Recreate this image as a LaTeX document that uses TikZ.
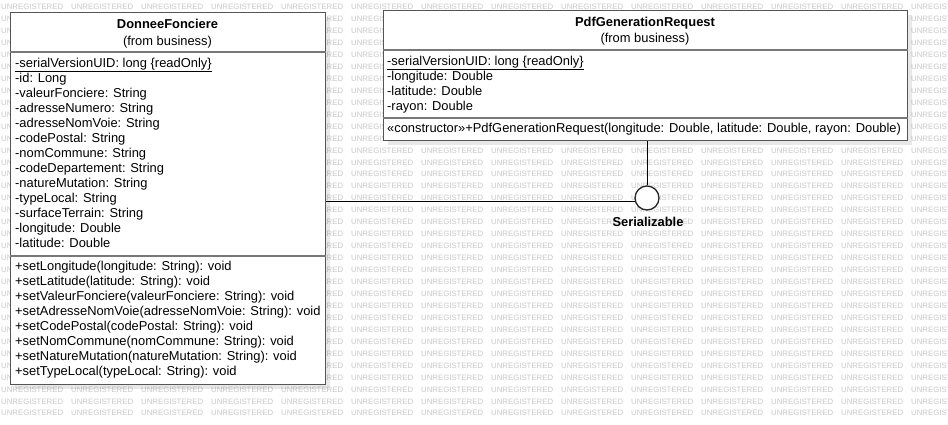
\documentclass[tikz,border=0pt]{standalone}
\usepackage{fontspec}
\setmainfont{Liberation Sans}
\usetikzlibrary{calc}

\definecolor{wmark}{RGB}{200,200,200}
\definecolor{frame}{RGB}{85,85,85}
\definecolor{sepline}{RGB}{120,120,120}

\tikzset{
  classbox/.style={draw=frame, line width=1.1pt, fill=white, inner sep=0pt, anchor=north west},
  shade/.style={fill=black, opacity=0.09},
  member/.style={anchor=base west, inner sep=0pt, font=\fontsize{12.9}{15}\selectfont},
  title/.style={anchor=base, inner sep=0pt, font=\fontsize{12.9}{15}\selectfont\bfseries},
  subtitle/.style={anchor=base, inner sep=0pt, font=\fontsize{12.9}{15}\selectfont},
  divider/.style={draw=sepline, line width=1.6pt},
  link/.style={draw=black, line width=0.9pt},
  lollipop/.style={circle, draw=black!85, line width=1.3pt, fill=white, minimum size=24pt, inner sep=0pt},
  wm/.style={anchor=west, inner sep=0pt, text=wmark, font=\fontsize{7.8}{8}\selectfont}
}

\begin{document}
\begin{tikzpicture}[x=1pt, y=-1pt]
  \useasboundingbox[fill=white] (0,0) rectangle (948,424);

  % background watermark grid (cells hidden under the class boxes are skipped)
  \foreach \r in {0,...,34} {
    \foreach \c in {0,...,13} {
      \pgfmathtruncatemacro\wx{1+70*\c}
      \pgfmathtruncatemacro\wy{7+11.95*\r}
      \pgfmathtruncatemacro\hide{((\wx>=10)&&(\wx+62<=325)&&(\wy>=16)&&(\wy<=380))||((\wx>=383)&&(\wx+62<=907)&&(\wy>=14)&&(\wy<=136))}
      \ifnum\hide=0
        \node[wm] at ({1+70*\c},{7+11.95*\r}) {UNREGISTERED};
      \fi
    }
  }

  % drop shadows
  \fill[shade] (15,17) rectangle (330,389);
  \fill[shade] (388,15) rectangle (912,145);

  % class DonneeFonciere
  \node[classbox, minimum width=315pt, minimum height=372pt] (donnee) at (10,12) {};
  \draw[divider] (donnee.west |- 0,52) -- (donnee.east |- 0,52);
  \draw[divider] (donnee.west |- 0,256) -- (donnee.east |- 0,256);
  \node[title] (donneeName) at (167.5,28) {DonneeFonciere};
  \node[subtitle] (donneeFrom) at (167.5,45) {(from business)};

  \node[member] (d1) at (15,67) {\underline{-serialVersionUID: long \{readOnly\}}};
  \foreach \t [count=\i] in {
      -id: Long,
      -valeurFonciere: String,
      -adresseNumero: String,
      -adresseNomVoie: String,
      -codePostal: String,
      -nomCommune: String,
      -codeDepartement: String,
      -natureMutation: String,
      -typeLocal: String,
      -surfaceTerrain: String,
      -longitude: Double,
      -latitude: Double} {
    \node[member] (da\i) at (15,{67+15*\i}) {\t};
  }
  \foreach \t [count=\i from 0] in {
      +setLongitude(longitude: String): void,
      +setLatitude(latitude: String): void,
      +setValeurFonciere(valeurFonciere: String): void,
      +setAdresseNomVoie(adresseNomVoie: String): void,
      +setCodePostal(codePostal: String): void,
      +setNomCommune(nomCommune: String): void,
      +setNatureMutation(natureMutation: String): void,
      +setTypeLocal(typeLocal: String): void} {
    \node[member] (dm\i) at (15,{270+15*\i}) {\t};
  }

  % class PdfGenerationRequest
  \node[classbox, minimum width=524pt, minimum height=130pt] (pdf) at (383,10) {};
  \draw[divider] (pdf.west |- 0,50) -- (pdf.east |- 0,50);
  \draw[divider] (pdf.west |- 0,118) -- (pdf.east |- 0,118);
  \node[title] (pdfName) at (645,26) {PdfGenerationRequest};
  \node[subtitle] (pdfFrom) at (645,42) {(from business)};
  \node[member] (p1) at (387,65) {\underline{-serialVersionUID: long \{readOnly\}}};
  \node[member] (p2) at (387,80) {-longitude: Double};
  \node[member] (p3) at (387,95) {-latitude: Double};
  \node[member] (p4) at (387,110) {-rayon: Double};
  \node[member] (p5) at (387,132) {«constructor»+PdfGenerationRequest(longitude: Double, latitude: Double, rayon: Double)};

  % Serializable interface (lollipop) and its realizations
  \node[lollipop] (iface) at (647,198) {};
  \node[title] (ifaceName) at (648,226) {Serializable};
  \draw[link] (iface.north |- pdf.south) -- (iface.north);
  \draw[link] (iface.194 -| donnee.east) -- (iface.194);
\end{tikzpicture}
\end{document}
